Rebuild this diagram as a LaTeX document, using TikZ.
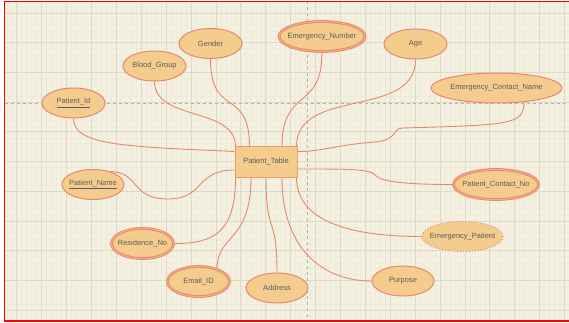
\documentclass[tikz,border=0pt]{standalone}
\usepackage{fontspec}
\setmainfont{Liberation Sans}
\usepackage{tikz}
\usetikzlibrary{shapes.geometric}
\definecolor{paper}{HTML}{F4F1E2}
\definecolor{minorline}{HTML}{EEEBDB}
\definecolor{majorline}{HTML}{DEDAC8}
\definecolor{attrfill}{HTML}{F4CD8E}
\definecolor{attredge}{HTML}{E9876C}
\definecolor{tablefill}{HTML}{F4CD8E}
\definecolor{tableedge}{HTML}{EA9F62}
\definecolor{labeltext}{HTML}{5C5C5C}

\begin{document}
\begin{tikzpicture}[x=1pt, y=-1pt,
    attr/.style={ellipse, draw=attredge, fill=attrfill, line width=1pt,
      inner xsep=-8pt, inner ysep=0pt, minimum height=30pt, text=labeltext,
      font=\fontsize{7.5}{9}\selectfont},
    multiattr/.style={attr, double=attrfill!70!attredge, double distance=0.8pt, line width=1pt},
    derivedattr/.style={attr, dotted, line width=1pt},
    entity/.style={rectangle, draw=tableedge, fill=tablefill, line width=1pt,
      inner sep=0pt, minimum width=62pt, minimum height=30pt, text=labeltext,
      font=\fontsize{7.5}{9}\selectfont},
    link/.style={draw=attredge, line width=0.9pt},
    minorgrid/.style={draw=minorline, line width=0.4pt},
    majorgrid/.style={draw=majorline, line width=0.7pt},
    guide/.style={draw=black!30, dashed, line width=0.6pt}]

  \useasboundingbox (0,0) rectangle (569,323);
  \fill[paper] (4.5,1.5) rectangle (569,321);
  \foreach \k in {-2,...,110}
    \draw[minorgrid] ({16.7+4.98*\k},1.5) -- ({16.7+4.98*\k},321);
  \foreach \k in {-1,...,51}
    \draw[minorgrid] (4.5,{13+5.94*\k}) -- (569,{13+5.94*\k});
  \foreach \k in {0,...,22}
    \draw[majorgrid] ({16.7+24.9*\k},1.5) -- ({16.7+24.9*\k},321);
  \foreach \k in {0,...,10}
    \draw[majorgrid] (4.5,{13+29.7*\k}) -- (569,{13+29.7*\k});
  \draw[guide] (4.5,103) -- (569,103);
  \draw[guide] (307,1.5) -- (307,321);
  \draw[red, line width=1.5pt] (569,1.5) -- (4.5,1.5) -- (4.5,321) -- (569,321);

  \node[entity] (tbl) at (266,162) {Patient\_Table};
  \node[attr, minimum width=63pt] (gen) at (210.5,43.5) {Gender};
  \node[attr, minimum width=63pt] (bg) at (154.5,66) {Blood\_Group};
  \node[attr, minimum width=63pt] (pid) at (73.5,103) {\underline{Patient\_Id}};
  \node[multiattr, minimum width=86pt] (en) at (322,36.5) {Emergency\_Number};
  \node[attr, minimum width=63pt] (age) at (415.5,44) {Age};
  \node[attr, minimum width=131pt] (ecn) at (496.5,88) {Emergency\_Contact\_Name};
  \node[attr, minimum width=62pt] (pn) at (93,184.5) {\underline{Patient\_Name}};
  \node[multiattr, minimum width=62pt] (res) at (142.5,243.5) {Residence\_No};
  \node[multiattr, minimum width=62pt] (em) at (198.5,281.5) {Email\_ID};
  \node[attr, minimum width=62pt] (addr) at (277,288) {Address};
  \node[multiattr, minimum width=85pt] (pcn) at (496,184.5) {Patient\_Contact\_No};
  \node[derivedattr, minimum width=81pt] (ep) at (462.5,236.5) {Emergency\_Patient};
  \node[attr, minimum width=62pt] (pur) at (403,281) {Purpose};

  \draw[link] (pid.south) .. controls +(0,27) and +(-110,-5) .. ([yshift=-5pt]tbl.north west);
  \draw[link] (bg.south) .. controls +(0,40) and +(0,-40) .. ([xshift=1pt]tbl.north west);
  \draw[link] (gen.south) .. controls +(0,60) and +(0,-60) .. ([xshift=15pt]tbl.north west);
  \draw[link] (en.south) .. controls +(0,60) and +(0,-60) .. ([xshift=16pt]tbl.north);
  \draw[link] (age.south) .. controls +(0,60) and +(0,-60) .. ([xshift=-1pt]tbl.north east);
  \draw[link] (ecn.-27) .. controls (523,124) and (515,125) .. (402,128)
    .. controls (393,128) and (398,140) .. (375,142)
    .. controls (335,145) and (320,152) .. ([yshift=-5pt]tbl.north east);
  \draw[link] ([yshift=-7pt]tbl.east) .. controls (350,169) and (370,169) .. (375,175)
    .. controls (380,181) and (400,184.5) .. (pcn.west);
  \draw[link] ([xshift=-1pt]tbl.south east) .. controls +(0,40) and +(-80,0) .. (ep.west);
  \draw[link] ([xshift=16pt]tbl.south) .. controls +(0,70) and +(-50,0) .. (pur.west);
  \draw[link] (tbl.south) .. controls +(0,60) and +(0,-60) .. (addr.north);
  \draw[link] ([xshift=-15pt]tbl.south) .. controls +(0,65) and +(0,-35) .. (em.34);
  \draw[link] ([xshift=1pt]tbl.south west) .. controls +(0,55) and +(40,0) .. (res.east);
  \draw[link] ([yshift=-8pt]tbl.west) .. controls (195,170) and (205,199) .. (168,199)
    .. controls (130,199) and (140,172) .. (pn.37);
\end{tikzpicture}
\end{document}
